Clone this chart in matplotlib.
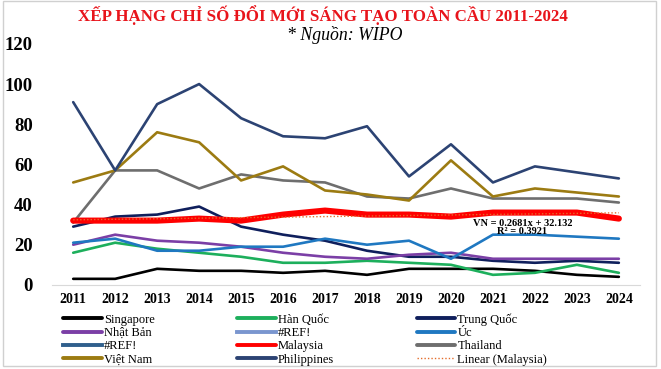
import matplotlib.pyplot as plt
from matplotlib.lines import Line2D
from matplotlib.patches import Rectangle

years = list(range(2011, 2025))

singapore = [3, 3, 8, 7, 7, 6, 7, 5, 8, 8, 8, 7, 5, 4]
han_quoc = [16, 21, 18, 16, 14, 11, 11, 12, 11, 10, 5, 6, 10, 6]
trung_quoc = [29, 34, 35, 39, 29, 25, 22, 17, 14, 14, 12, 11, 12, 11]
nhat_ban = [20, 25, 22, 21, 19, 16, 14, 13, 15, 16, 13, 13, 13, 13]
uc = [21, 23, 17, 17, 19, 19, 23, 20, 22, 13, 25, 25, 24, 23]
malaysia = [32, 32, 32, 33, 32, 35, 37, 35, 35, 34, 36, 36, 36, 33]
thailand = [31, 57, 57, 48, 55, 52, 51, 44, 43, 48, 43, 43, 43, 41]
viet_nam = [51, 57, 76, 71, 52, 59, 47, 45, 42, 62, 44, 48, 46, 44]
philippines = [91, 57, 90, 100, 83, 74, 73, 79, 54, 70, 51, 59, 56, 53]

# trendline shown on the chart for Malaysia
trend_slope = 0.2681
trend_intercept = 32.132

serif = 'Liberation Serif'

fig = plt.figure(figsize=(6.61, 3.69), dpi=100)
ax = fig.add_axes([0.079, 0.228, 0.889, 0.653])

x = list(range(len(years)))
series = [
    ('Singapore', singapore, '#000000', 1.9),
    ('Hàn Quốc', han_quoc, '#1DAF5C', 1.9),
    ('Trung Quốc', trung_quoc, '#0F1F5C', 1.9),
    ('Nhật Bản', nhat_ban, '#7B3FA6', 1.9),
    ('Úc', uc, '#1F78C1', 1.9),
    ('Thailand', thailand, '#6E6E6E', 1.9),
    ('Việt Nam', viet_nam, '#9C7B12', 1.9),
    ('Philippines', philippines, '#2C4373', 1.9),
    ('Malaysia', malaysia, '#FF0000', 4.4),
]
lines = {}
for name, vals, color, lw in series:
    lines[name], = ax.plot(x, vals, color=color, lw=lw, label=name,
                           solid_capstyle='round')

trend = [trend_slope * (i + 1) + trend_intercept for i in x]
lines['trend'], = ax.plot(x, trend, color='#E46C2A', lw=1.0, ls=(0, (1, 1.5)))

ax.text(10.7, 28.6, 'VN = 0.2681x + 32.132\nR² = 0.3921', ha='center', va='center',
        fontsize=7.5, fontweight='bold', family=serif, linespacing=0.95)

ax.set_xlim(-0.5, 13.5)
ax.set_ylim(0, 120)
ax.set_xticks(x)
ax.set_xticklabels(years, fontsize=10, fontweight='bold', family=serif)
ax.set_yticks(range(0, 121, 20))
ax.set_yticklabels(range(0, 121, 20), fontsize=13.5, fontweight='bold', family=serif)
ax.tick_params(length=0)
ax.tick_params(axis='y', pad=14)
ax.tick_params(axis='x', pad=6)
for s in ['top', 'right', 'left']:
    ax.spines[s].set_visible(False)
ax.spines['bottom'].set_color('#D9D9D9')

fig.text(0.489, 0.960, 'XẾP HẠNG CHỈ SỐ ĐỔI MỚI SÁNG TẠO TOÀN CẦU 2011-2024',
         ha='center', va='center', color='#E8141B', fontsize=12.2,
         fontweight='bold', family=serif)
fig.text(0.522, 0.905, '* Nguồn: WIPO', ha='center', va='center',
         fontsize=12.8, style='italic', family=serif)

ref1 = Line2D([], [], color='#7A96CF', lw=2.5)
ref2 = Line2D([], [], color='#2F5F8C', lw=2.5)
handles = [lines['Singapore'], lines['Nhật Bản'], ref2, lines['Việt Nam'],
           lines['Hàn Quốc'], ref1, lines['Malaysia'], lines['Philippines'],
           lines['Trung Quốc'], lines['Úc'], lines['Thailand'], lines['trend']]
labels = ['Singapore', 'Nhật Bản', '#REF!', 'Việt Nam',
          'Hàn Quốc', '#REF!', 'Malaysia', 'Philippines',
          'Trung Quốc', 'Úc', 'Thailand', 'Linear (Malaysia)']
leg = fig.legend(handles, labels, ncol=3, loc='upper left',
                 bbox_to_anchor=(0.096, 0.151), frameon=False,
                 prop={'family': serif, 'size': 9}, handlelength=3.1,
                 handletextpad=0.15, columnspacing=6.6, labelspacing=0.1,
                 borderpad=0, borderaxespad=0)
for h in leg.legend_handles[:11]:
    h.set_linewidth(2.8)

fig.patches.append(Rectangle((0.004, 0.008), 0.988, 0.99, transform=fig.transFigure,
                             fill=False, edgecolor='#D0D0D0', lw=1.0))

fig.savefig('out.png', dpi=100)
